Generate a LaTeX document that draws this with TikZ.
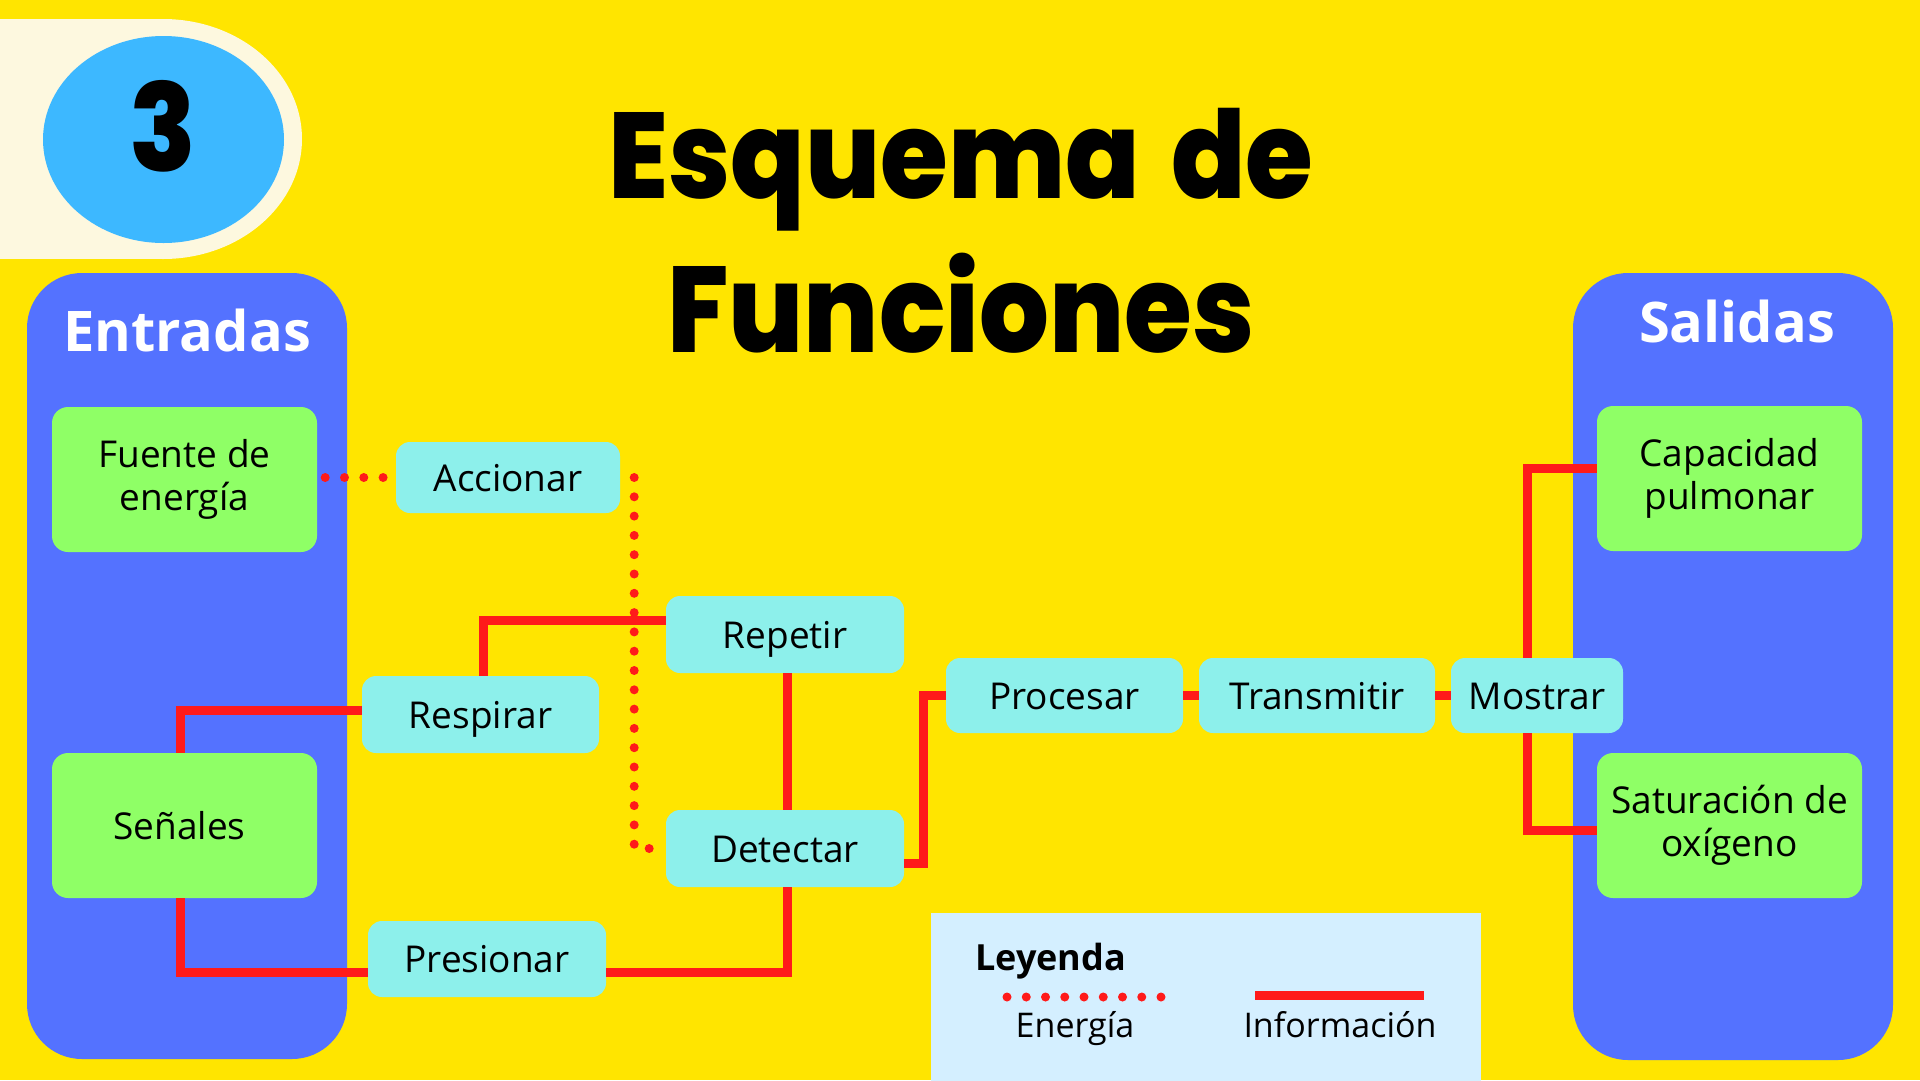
\documentclass[tikz,border=0pt]{standalone}
\usepackage{fontspec}
\setmainfont{Open Sans}
\newfontfamily\titlefont{Poppins}[UprightFont=* ExtraBold]
\definecolor{bgyellow}{HTML}{FFE500}
\definecolor{cream}{HTML}{FDF8DF}
\definecolor{badgeblue}{HTML}{3DB8FF}
\definecolor{panelblue}{HTML}{5472FF}
\definecolor{boxgreen}{HTML}{8FFF66}
\definecolor{boxcyan}{HTML}{8DF0EB}
\definecolor{linered}{HTML}{FF1A1A}
\definecolor{legendblue}{HTML}{D4EFFF}
\newcommand\boxfont{\fontsize{37}{43}\selectfont}
\newcommand\titlescale[1]{\scalebox{0.9}[1]{#1}}
\begin{document}
\begin{tikzpicture}[x=1pt,y=-1pt,
  greenbox/.style={fill=boxgreen, rounded corners=16pt, minimum width=265pt, minimum height=145pt, inner sep=0pt, align=center, font=\boxfont},
  cyanbox/.style={fill=boxcyan, rounded corners=14pt, inner sep=0pt, align=center, font=\boxfont, minimum height=76pt, text height=27pt, text depth=0pt},
  info/.style={draw=linered, line width=9pt},
  energy/.style={draw=linered, line width=9pt, line cap=round, dash pattern=on 0pt off 19.3pt},
  paneltitle/.style={text=white, font=\fontsize{56}{60}\selectfont\bfseries, anchor=base, inner sep=0pt},
  bigtitle/.style={font=\titlefont\fontsize{122}{130}\selectfont, anchor=base, inner sep=0pt}
]
\useasboundingbox (0,0) rectangle (1920,1080);
\fill[bgyellow] (0,0) rectangle (1920,1080);

% badge
\fill[cream] (-5,19) rectangle (163,259);
\fill[cream] (163,139) ellipse[x radius=139, y radius=120];
\fill[badgeblue] (163.5,139.5) ellipse[x radius=120.5, y radius=103.5];
\node[bigtitle] (num) at (163,171) {\titlescale{3}};

% title
\node[bigtitle] (t1) at (961,198) {\titlescale{Esquema\hspace{11pt} de}};
\node[bigtitle] (t2) at (961,352) {\titlescale{Funciones}};

% panels
\fill[panelblue, rounded corners=55pt] (27,273) rectangle (347,1059);
\fill[panelblue, rounded corners=55pt] (1573,273) rectangle (1893,1060);
\node[paneltitle] (entr) at (187,351) {Entradas};
\node[paneltitle] (sal) at (1737,342) {Salidas};

% legend
\fill[legendblue] (931,913) rectangle (1481,1085);
\node[font=\fontsize{36}{40}\selectfont\bfseries, anchor=base west, inner sep=0pt] (ley) at (975,970) {Leyenda};
\coordinate (le1) at (1007,997);
\coordinate (le2) at (1162,997);
\draw[energy, dash pattern=on 0pt off 19.25pt] (le1) -- (le2);
\coordinate (li1) at (1255,995.5);
\coordinate (li2) at (1424,995.5);
\draw[info] (li1) -- (li2);
\node[font=\fontsize{34}{40}\selectfont, anchor=base, inner sep=0pt] (len) at (1075,1037) {Energía};
\node[font=\fontsize{34}{40}\selectfont, anchor=base, inner sep=0pt] (lin) at (1340,1037) {Información};

% nodes
\node[greenbox] (fuente) at (184.5,479.5) {Fuente de\\energía};
\node[greenbox, text height=27pt, text depth=0pt] (senales) at (184.5,825.5) {\hspace*{-10pt}Señales};
\node[greenbox] (capac) at (1729.5,478.5) {Capacidad\\pulmonar};
\node[greenbox] (satur) at (1729.5,825.5) {Saturación de\\oxígeno};

\node[cyanbox, minimum width=224pt, minimum height=71pt] (accionar) at (508,477.5) {Accionar};
\node[cyanbox, minimum width=237pt, minimum height=77pt] (respirar) at (480.5,714.5) {Respirar};
\node[cyanbox, minimum width=238pt] (presionar) at (487,959) {Presionar};
\node[cyanbox, minimum width=238pt, minimum height=77pt] (repetir) at (785,634.5) {Repetir};
\node[cyanbox, minimum width=238pt, minimum height=77pt] (detectar) at (785,848.5) {Detectar};
\node[cyanbox, minimum width=237pt, minimum height=75pt] (procesar) at (1064.5,695.5) {Procesar};
\node[cyanbox, minimum width=236pt, minimum height=75pt] (transmitir) at (1317,695.5) {Transmitir};
\node[cyanbox, minimum width=172pt, minimum height=75pt] (mostrar) at (1537,695.5) {Mostrar};

% connectors
\draw[energy] ([xshift=8pt]fuente.east |- accionar.west) -- ([xshift=-11pt]accionar.west);
\draw[energy] ([xshift=14pt]accionar.east) -- ([xshift=14pt]accionar.east |- detectar.west) -- ([xshift=-13pt]detectar.west);
\draw[info] ([xshift=2.5pt]respirar.north) |- ([yshift=14.5pt]repetir.west);
\draw[info] ([xshift=-4.5pt]senales.north) |- ([yshift=4.5pt]respirar.west);
\draw[info] ([xshift=-4.5pt]senales.south) |- ([yshift=-13pt]presionar.west);
\draw[info] ([yshift=-13pt]presionar.east) -| ([xshift=2pt]detectar.south);
\draw[info] ([xshift=2pt]repetir.south) -- ([xshift=2pt]detectar.north);
\draw[info] ([yshift=-14.5pt]detectar.east) -- ++(19,0) |- (procesar.west);
\draw[info] (procesar.east) -- (transmitir.west);
\draw[info] (transmitir.east) -- (mostrar.west);
\draw[info] ([xshift=-10pt]mostrar.north) |- ([yshift=10.5pt]capac.west);
\draw[info] ([xshift=-10pt]mostrar.south) |- ([yshift=-4.5pt]satur.west);
\end{tikzpicture}
\end{document}
